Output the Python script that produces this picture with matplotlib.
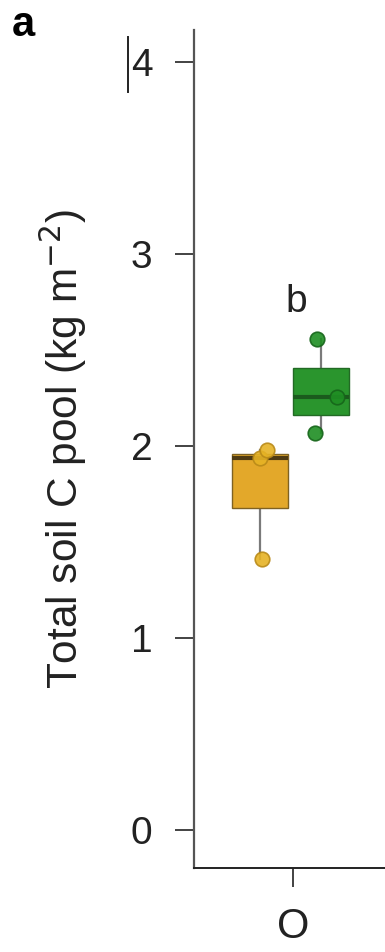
import matplotlib.pyplot as plt
from matplotlib.lines import Line2D

# --- Данные ---
groups = ['O']
treatments = ['orange', 'green']
soil_c_orange = [1.41, 1.94, 1.98]
soil_c_green = [2.07, 2.255, 2.56]
jitter_orange = [0.02, 0.00, 0.07]
jitter_green = [-0.06, 0.16, -0.04]
letter_green = 'b'
letter_y = 2.70

yticks = [0, 1, 2, 3, 4]

fill_colors = {'orange': '#E3A82A', 'green': '#2A952D'}
edge_colors = {'orange': '#7F6222', 'green': '#226A24'}
median_colors = {'orange': '#4E3A12', 'green': '#1B5A1D'}
point_colors = {'orange': '#E6B325', 'green': '#1F8E23'}
point_edges = {'orange': '#B98A18', 'green': '#16651A'}

plt.rcParams['font.family'] = ['Liberation Sans', 'DejaVu Sans']

fig = plt.figure(figsize=(3.85, 9.52), dpi=100)
W, H = 385, 952
# оси выходят за правый край фигуры
ax = fig.add_axes([194 / W, (H - 868) / H, 300 / W, (868 - 30) / H])

offsets = {'orange': -0.33, 'green': 0.28}
box_w = 0.56
data = {'orange': soil_c_orange, 'green': soil_c_green}
jit = {'orange': jitter_orange, 'green': jitter_green}

for t in treatments:
    pos = 0 + offsets[t]
    bp = ax.boxplot([data[t]], positions=[pos], widths=box_w, whis=(0, 100),
                    patch_artist=True, showfliers=False, showcaps=False,
                    manage_ticks=False)
    for b in bp['boxes']:
        b.set_facecolor(fill_colors[t])
        b.set_edgecolor(edge_colors[t])
        b.set_linewidth(1.0)
        b.set_zorder(2)
    for w in bp['whiskers']:
        w.set_color('#7A7A7A')
        w.set_linewidth(1.6)
        w.set_zorder(1)
    for m in bp['medians']:
        m.set_color(median_colors[t])
        m.set_linewidth(3.0)
        m.set_zorder(3)
    xs = [pos + j for j in jit[t]]
    ax.plot(xs, data[t], 'o', ms=10.5, mfc=point_colors[t], mec=point_edges[t],
            mew=1.2, zorder=4, alpha=0.9)

ax.text(0 + 0.03, letter_y, letter_green, ha='center', va='baseline',
        fontsize=28, color='#222222')

ax.set_xlim(-0.99, 2.01)
ax.set_ylim(-0.198, 4.167)
ax.set_yticks(yticks)
ax.set_yticklabels([str(v) for v in yticks])
ax.set_xticks([0])
ax.set_xticklabels(groups)

for s in ['top', 'right']:
    ax.spines[s].set_visible(False)
ax.spines['left'].set_color('#555555')
ax.spines['left'].set_linewidth(1.6)
ax.spines['bottom'].set_color('#222222')
ax.spines['bottom'].set_linewidth(1.4)

ax.tick_params(axis='y', length=14, width=1.2, pad=16, labelsize=28,
               colors='#222222')
ax.tick_params(axis='x', length=14, width=1.2, pad=14, labelsize=30,
               colors='#222222')

ax.set_ylabel('Total soil C pool (kg m$^{-2}$)', fontsize=30.5,
              color='#222222')
ax.yaxis.set_label_coords((89 - 194) / 300, 0.5)

fig.text(12 / W, 1 - 36 / H, 'a', fontsize=30, fontweight='bold',
         ha='left', va='baseline')

# вертикальная черта рядом с меткой 4
fig.add_artist(Line2D([128 / W, 128 / W], [1 - 37 / H, 1 - 92 / H],
                      color='#222222', lw=1.4))

fig.savefig('out.png', dpi=100)
